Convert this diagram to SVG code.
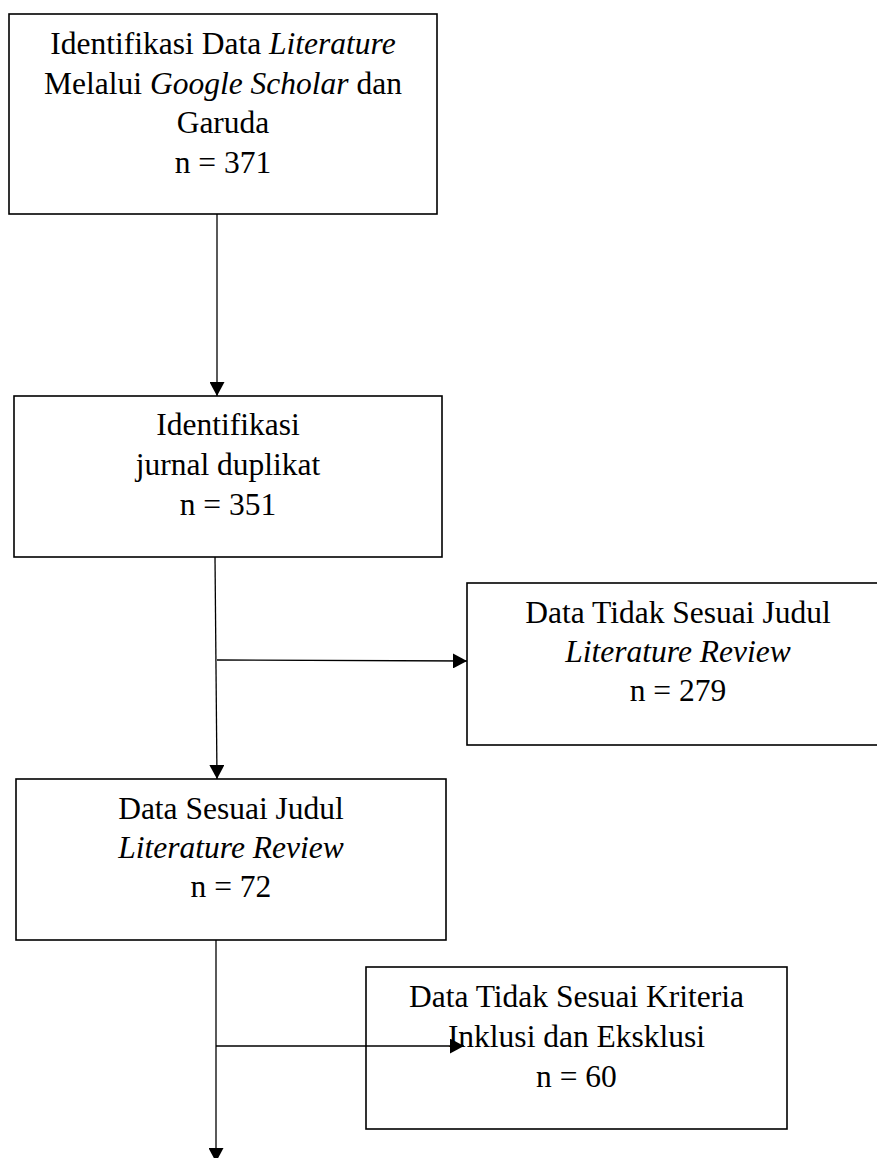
<svg xmlns="http://www.w3.org/2000/svg" width="877" height="1158" viewBox="0 0 877 1158">
<defs>
<style>
.box{fill:#fff;stroke:#000;stroke-width:1.6}
.t{font-family:"Liberation Serif","Times New Roman",serif;font-size:31.5px;fill:#000;text-anchor:middle}
.i{font-style:italic}
.c{fill:none;stroke:#000;stroke-width:1.3}
</style>
<marker id="ah" viewBox="0 0 14 15" refX="14" refY="7.5" markerWidth="14" markerHeight="15" markerUnits="userSpaceOnUse" orient="auto">
<path d="M0,0 L14,7.5 L0,15 z" fill="#000"/>
</marker>
</defs>
<rect width="877" height="1158" fill="#fff"/>
<g id="node1">
<rect class="box" x="9" y="14" width="428" height="200"/>
<text class="t" x="223" y="54">Identifikasi Data <tspan class="i">Literature</tspan></text>
<text class="t" x="223" y="94">Melalui <tspan class="i">Google Scholar</tspan> dan</text>
<text class="t" x="223" y="133">Garuda</text>
<text class="t" x="223" y="173">n = 371</text>
</g>
<g id="node2">
<rect class="box" x="14" y="396" width="428" height="161"/>
<text class="t" x="228" y="435">Identifikasi</text>
<text class="t" x="228" y="475">jurnal duplikat</text>
<text class="t" x="228" y="515">n = 351</text>
</g>
<g id="node3">
<rect class="box" x="467" y="583" width="421" height="162"/>
<text class="t" x="678" y="623">Data Tidak Sesuai Judul</text>
<text class="t i" x="678" y="662">Literature Review</text>
<text class="t" x="678" y="701">n = 279</text>
</g>
<g id="node4">
<rect class="box" x="16" y="779" width="430" height="161"/>
<text class="t" x="231" y="819">Data Sesuai Judul</text>
<text class="t i" x="231" y="858">Literature Review</text>
<text class="t" x="231" y="897">n = 72</text>
</g>
<g id="node5">
<rect class="box" x="366" y="967" width="421" height="162"/>
<text class="t" x="576.5" y="1007">Data Tidak Sesuai Kriteria</text>
<text class="t" x="576.5" y="1047">Inklusi dan Eksklusi</text>
<text class="t" x="576.5" y="1087">n = 60</text>
</g>
<g id="connectors">
<line class="c" x1="217" y1="214" x2="217" y2="396" marker-end="url(#ah)"/>
<line class="c" x1="215" y1="557" x2="217" y2="779" marker-end="url(#ah)"/>
<line class="c" x1="217" y1="660" x2="467" y2="661" marker-end="url(#ah)"/>
<line class="c" x1="216" y1="940" x2="216" y2="1162" marker-end="url(#ah)"/>
<line class="c" x1="216" y1="1046" x2="464" y2="1046" marker-end="url(#ah)"/>
</g>
</svg>
